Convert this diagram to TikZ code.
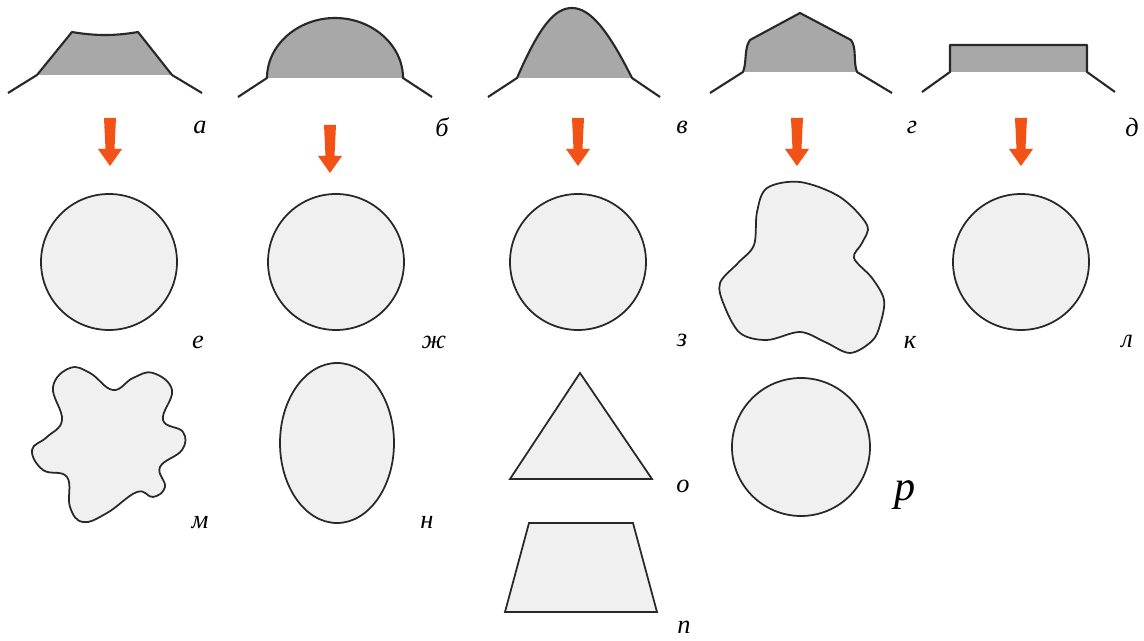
\documentclass[tikz,border=0pt]{standalone}
\usepackage{fontspec}
\setmainfont{Liberation Serif}
\definecolor{ArrowRed}{RGB}{243,82,22}
\definecolor{ProfGray}{RGB}{168,168,168}
\definecolor{CutFill}{RGB}{240,240,240}
\definecolor{EdgeGray}{RGB}{40,40,40}
\tikzset{
  profile/.style={line width=1.2pt,draw=EdgeGray,line join=round},
  cut/.style={line width=1pt,draw=EdgeGray,fill=CutFill},
  lbl/.style={font=\itshape\fontsize{15}{18}\selectfont,inner sep=0pt}
}

\begin{document}
\begin{tikzpicture}[x=0.02cm,y=-0.02cm]
  \useasboundingbox (0,0) rectangle (1144,641);
  % bead profiles
  \fill[ProfGray] (37,75) -- (72,32) .. controls (95,36) and (115,36) .. (138,32) -- (172,75) -- cycle;
  \draw[profile] (8,93) -- (37,75) -- (72,32) .. controls (95,36) and (115,36) .. (138,32) -- (172,75) -- (202,93);
  \fill[ProfGray] (267,78) .. controls (267,45) and (298,18) .. (335,18) .. controls (372,18) and (403,45) .. (403,78) -- cycle;
  \draw[profile] (238,97) -- (267,78) .. controls (267,45) and (298,18) .. (335,18) .. controls (372,18) and (403,45) .. (403,78) -- (432,97);
  \fill[ProfGray] (517,78) .. controls (540,25) and (555,8) .. (572,8) .. controls (590,8) and (608,30) .. (632,78) -- cycle;
  \draw[profile] (488,97) -- (517,78) .. controls (540,25) and (555,8) .. (572,8) .. controls (590,8) and (608,30) .. (632,78) -- (660,97);
  \fill[ProfGray] (743,72) .. controls (747,62) and (744,48) .. (750,40) -- (800,13) -- (851,40) .. controls (857,48) and (853,62) .. (857,72) -- cycle;
  \draw[profile] (710,93) -- (743,72) .. controls (747,62) and (744,48) .. (750,40) -- (800,13) -- (851,40) .. controls (857,48) and (853,62) .. (857,72) -- (892,93);
  \fill[ProfGray] (950,72) rectangle (1087,45);
  \draw[profile] (922,92) -- (950,72) -- (950,45) -- (1087,45) -- (1087,72) -- (1115,92);

  % arrows
  \foreach \x/\y in {110/118,330/125,578/118,797/118,1021/118}
    \fill[ArrowRed] (\x-6,\y) -- (\x+6,\y) -- (\x+4.5,\y+31) -- (\x+12,\y+31) -- (\x,\y+48)
      -- (\x-12,\y+31) -- (\x-4.5,\y+31) -- cycle;

  % cross sections
  \draw[cut] (109,262) circle[radius=68];
  \draw[cut] (336,262) circle[radius=68];
  \draw[cut] (578,262) circle[radius=68];
  \draw[cut] plot[smooth cycle,tension=0.55] coordinates {(767,188) (800,182) (840,197) (867,225)
    (862,243) (854,258) (872,278) (884,300) (880,325) (872,341) (850,353) (825,342) (800,332)
    (767,340) (740,333) (724,305) (720,283) (738,263) (754,245) (757,212)};
  \draw[cut] (1021,262) circle[radius=68];
  \draw[cut] plot[smooth cycle,tension=0.7] coordinates {(53,387) (70,368) (90,373) (113,390)
    (133,378) (153,373) (172,390) (163,420) (183,432) (182,450) (160,467) (165,487) (153,497)
    (137,492) (107,513) (83,522) (70,507) (67,477) (43,470) (32,450) (47,437) (62,420)};
  \draw[cut] (337,443) ellipse[x radius=57,y radius=80];
  \draw[cut] (580,373) -- (652,479) -- (510,479) -- cycle;
  \draw[cut] (529,523) -- (633,523) -- (657,612) -- (505,612) -- cycle;
  \draw[cut] (801,447) circle[radius=69];

  % labels
  \node[lbl] (la) at (200,127) {а};
  \node[lbl] (lb) at (442,127) {б};
  \node[lbl] (lv) at (682,127) {в};
  \node[lbl] (lg) at (912,127) {г};
  \node[lbl] (ld) at (1132,127) {д};
  \node[lbl] (le) at (198,342) {е};
  \node[lbl] (lzh) at (434,342) {ж};
  \node[lbl] (lz) at (682,340) {з};
  \node[lbl] (lk) at (910,342) {к};
  \node[lbl] (ll) at (1127,341) {л};
  \node[lbl] (lm) at (200,523) {м};
  \node[lbl] (ln) at (427,522) {н};
  \node[lbl] (lo) at (683,486) {о};
  \node[lbl,font=\itshape\fontsize{24}{28}\selectfont] (lr) at (905,495) {р};
  \node[lbl] (lp) at (684,627) {п};
\end{tikzpicture}
\end{document}
